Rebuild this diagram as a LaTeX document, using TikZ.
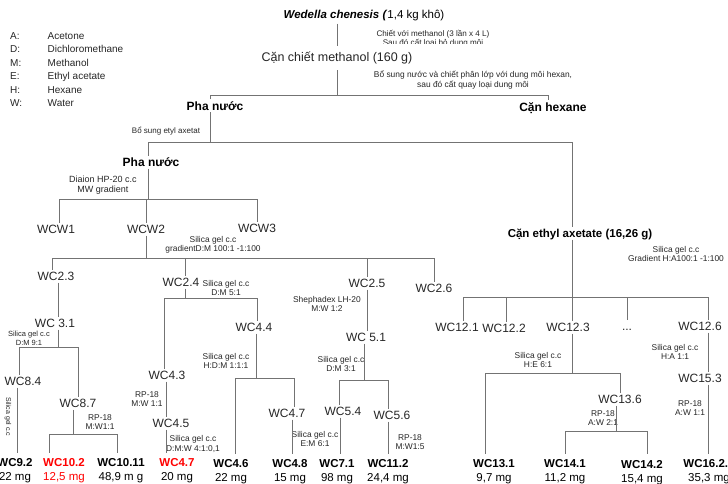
\documentclass[tikz,border=0pt]{standalone}
\usepackage{fontspec}
\setmainfont{Liberation Sans}
\begin{document}
\begin{tikzpicture}[x=1pt,y=-1pt,
 conn/.style={draw=black!55, line width=0.75pt},
 lab/.style={font=\fontsize{12}{14}\selectfont, text=black!85, inner sep=2pt, text height=8.6pt, text depth=0pt},
 res/.style={font=\fontsize{11.5}{14}\selectfont, align=center, inner xsep=1pt, inner ysep=6pt},
 sm/.style={font=\fontsize{8.4}{9.6}\selectfont, align=center, inner sep=1pt, text=black!85},
 hdr/.style={font=\bfseries\fontsize{12}{14}\selectfont, inner sep=2pt, text height=8.6pt, text depth=0pt},
 leg/.style={font=\fontsize{10}{12}\selectfont, anchor=base west, inner sep=0pt, text=black!85}]
\useasboundingbox (0,0) rectangle (728,484);

% legend
\foreach \k/\n [count=\i] in {A/Acetone, D/Dichloromethane, M/Methanol, E/Ethyl acetate, H/Hexane, W/Water}{
  \node[leg] (lk\i) at (10,26+13.5*\i) {\k:};
  \node[leg] (ln\i) at (47.5,26+13.5*\i) {\n};
}

% top part
\node[font=\fontsize{11.5}{13}\selectfont, inner sep=2pt] (title) at (364,16) {\textbf{\textit{Wedella chenesis (}}1,4 kg khô)};
\node[sm, font=\fontsize{8.1}{9}\selectfont] (n1) at (433,39) {Chiết với methanol (3 lần x 4 L)\\Sau đó cất loại bỏ dung môi};
\fill[white] (243,44.3) rectangle (495,68);
\node[font=\fontsize{12.5}{14}\selectfont, text=black!85, minimum height=24pt, inner sep=0pt] (cm) at (337,58) {Cặn chiết methanol (160 g)};
\node[sm] (n2) at (473,80) {Bổ sung nước và chiết phân lớp với dung môi hexan,\\sau đó cất quay loại dung môi};
\node[hdr] (pn1) at (215,106) {Pha nước};
\node[hdr] (ch) at (553,107) {Cặn hexane};
\node[sm, font=\fontsize{8}{9}\selectfont] (n3) at (166,131) {Bổ sung etyl axetat};
\node[hdr] (pn2) at (151,162) {Pha nước};
\node[sm, font=\fontsize{9}{9.5}\selectfont] (n4) at (103,185) {Diaion HP-20 c.c\\MW gradient};
\node[hdr, font=\bfseries\fontsize{11.5}{14}\selectfont] (ce) at (580,233) {Cặn ethyl axetate (16,26 g)};

% WC labels
\node[lab] (wcw1) at (56,229) {WCW1};
\node[lab] (wcw2) at (146,229) {WCW2};
\node[lab] (wcw3) at (257,228) {WCW3};
\node[lab] (wc23) at (56,276) {WC2.3};
\node[lab] (wc24) at (181,282) {WC2.4};
\node[lab] (wc25) at (367,283) {WC2.5};
\node[lab] (wc26) at (434,288) {WC2.6};
\node[lab] (wc31) at (55,323) {WC 3.1};
\node[lab] (wc44) at (254,327) {WC4.4};
\node[lab] (wc51) at (366,337) {WC 5.1};
\node[lab] (wc84) at (23,381) {WC8.4};
\node[lab] (wc87) at (78,403) {WC8.7};
\node[lab] (wc43) at (167,375) {WC4.3};
\node[lab] (wc45) at (171,423) {WC4.5};
\node[lab] (wc47b) at (287,413) {WC4.7};
\node[lab] (wc54) at (343,411) {WC5.4};
\node[lab] (wc56) at (392,415) {WC5.6};
\node[lab] (wc121) at (457,327) {WC12.1};
\node[lab] (wc122) at (504,328) {WC12.2};
\node[lab] (wc123) at (568,327) {WC12.3};
\node[lab] (dots) at (627,326) {...};
\node[lab] (wc126) at (700,326) {WC12.6};
\node[lab] (wc136) at (620,399) {WC13.6};
\node[lab] (wc153) at (700,378) {WC15.3};

% small conditions
\node[sm] (s1) at (213,245) {Silica gel c.c\\gradientD:M 100:1 -1:100};
\node[sm] (s2) at (226,288) {Silica gel c.c\\D:M 5:1};
\node[sm, font=\fontsize{7.5}{8.8}\selectfont] (s3) at (29,338) {Silica gel c.c\\D:M 9:1};
\node[sm] (s4) at (226,361) {Silica gel c.c\\H:D:M 1:1:1};
\node[sm] (s5) at (147,399) {RP-18\\M:W 1:1};
\node[sm] (s6) at (193,444) {Silica gel c.c\\D:M:W 4:1:0,1};
\node[sm] (s7) at (100,422) {RP-18\\M:W1:1};
\node[sm] (s8) at (327,304) {Shephadex LH-20\\M:W 1:2};
\node[sm] (s9) at (341,364) {Silica gel c.c\\D:M 3:1};
\node[sm] (s10) at (315,439) {Silica gel c.c\\E:M 6:1};
\node[sm] (s11) at (410,442) {RP-18\\M:W1:5};
\node[sm] (s12) at (676,254) {Silica gel c.c\\Gradient H:A100:1 -1:100};
\node[sm] (s13) at (538,360) {Silica gel c.c\\H:E 6:1};
\node[sm] (s14) at (675,352) {Silica gel c.c\\H:A 1:1};
\node[sm] (s15) at (603,418) {RP-18\\A:W 2:1};
\node[sm] (s16) at (690,408) {RP-18\\A:W 1:1};
\node[sm, rotate=-90, font=\fontsize{7}{8}\selectfont] (rot) at (8,417) {Silica gel c.c};

% results
\node[res] (r92) at (15,471) {\textbf{WC9.2}\\22 mg};
\node[res, text=red] (r102) at (64,471) {\textbf{WC10.2}\\12,5 mg};
\node[res] (r1011) at (121,471) {\textbf{WC10.11}\\48,9 m g};
\node[res] (r47) at (177,471) {\textcolor{red}{\textbf{WC4.7}}\\20 mg};
\node[res] (r46) at (231,472) {\textbf{WC4.6}\\22 mg};
\node[res] (r48) at (290,472) {\textbf{WC4.8}\\15 mg};
\node[res] (r71) at (337,472) {\textbf{WC7.1}\\98 mg};
\node[res] (r112) at (388,472) {\textbf{WC11.2}\\24,4 mg};
\node[res] (r131) at (494,472) {\textbf{WC13.1}\\9,7 mg};
\node[res] (r141) at (565,472) {\textbf{WC14.1}\\11,2 mg};
\node[res] (r142) at (642,472.5) {\textbf{WC14.2}\\15,4 mg};
\node[res] (r1621) at (709,472) {\textbf{WC16.2.1}\\35,3 mg};

% bar levels
\coordinate (b1) at (0,95);
\coordinate (b2) at (0,142);
\coordinate (b3) at (0,199);
\coordinate (b4) at (0,258);
\coordinate (b5) at (0,347);
\coordinate (b6) at (0,434);
\coordinate (b7) at (0,298);
\coordinate (b8) at (0,378);
\coordinate (b9) at (0,380);
\coordinate (b10) at (0,297);
\coordinate (b11) at (0,373);
\coordinate (b12) at (0,431);

% shifted anchors
\coordinate (pn1a) at ([xshift=-5pt]pn1.north);
\coordinate (pn1b) at ([xshift=-5pt]pn1.south);
\coordinate (cha) at ([xshift=-5pt]ch.north);
\coordinate (pn2a) at ([xshift=-3pt]pn2.north);
\coordinate (pn2b) at ([xshift=-3pt]pn2.south);
\coordinate (cea) at ([xshift=-8pt]ce.north);
\coordinate (ceb) at ([xshift=-8pt]ce.south);
\coordinate (w1a) at ([xshift=3pt]wcw1.north);
\coordinate (w23a) at ([xshift=-4pt]wc23.north);
\coordinate (w23b) at ([xshift=2pt]wc23.south);
\coordinate (w31b) at ([xshift=3pt]wc31.south);
\coordinate (w24a) at ([xshift=4pt]wc24.north);
\coordinate (w24b) at ([xshift=4pt]wc24.south);
\coordinate (w84a) at ([xshift=-4pt]wc84.north);
\coordinate (w84b) at ([xshift=-6pt]wc84.south);
\coordinate (w87b) at ([xshift=-5pt]wc87.south);
\coordinate (r102a) at ([xshift=-15pt]r102.north);
\coordinate (r1011a) at ([xshift=-4pt]r1011.north);
\coordinate (w43a) at ([xshift=-3pt]wc43.north);
\coordinate (w43b) at ([xshift=-1pt]wc43.south);
\coordinate (w44a) at ([xshift=3pt]wc44.north);
\coordinate (w44b) at ([xshift=2pt]wc44.south);
\coordinate (w45b) at ([xshift=-5pt]wc45.south);
\coordinate (r46a) at ([xshift=4pt]r46.north);
\coordinate (w47a) at ([xshift=7pt]wc47b.north);
\coordinate (w47b) at ([xshift=5pt]wc47b.south);
\coordinate (w51b) at ([xshift=-2pt]wc51.south);
\coordinate (w54a) at ([xshift=-4pt]wc54.north);
\coordinate (w54b) at ([xshift=-3pt]wc54.south);
\coordinate (w56a) at ([xshift=-4pt]wc56.north);
\coordinate (w56b) at ([xshift=-4pt]wc56.south);
\coordinate (w121a) at ([xshift=6pt]wc121.north);
\coordinate (w122a) at ([xshift=2pt]wc122.north);
\coordinate (w123a) at ([xshift=4pt]wc123.north);
\coordinate (w123b) at ([xshift=4pt]wc123.south);
\coordinate (w126a) at ([xshift=8pt]wc126.north);
\coordinate (w126b) at ([xshift=8pt]wc126.south);
\coordinate (w153a) at ([xshift=8pt]wc153.north);
\coordinate (w153b) at ([xshift=8pt]wc153.south);
\coordinate (r131a) at ([xshift=-9pt]r131.north);
\coordinate (w136b) at ([xshift=-4pt]wc136.south);
\coordinate (r142a) at ([xshift=5pt]r142.north);

% connectors
\draw[conn] (title.south -| cm.north) -- (cm.north);
\draw[conn] (cm.south) -- (cm.south |- b1);
\draw[conn] (pn1a) |- (cha |- b1) -- (cha);
\draw[conn] (pn1b) -- (pn1b |- b2);
\draw[conn] (pn2a) |- (cea |- b2) -- (cea);
\draw[conn] (pn2b) -- (pn2b |- b3);
\draw[conn] (w1a) |- (wcw3.north |- b3) -- (wcw3.north);
\draw[conn] (wcw2.north) -- (wcw2.north |- b3);
\draw[conn] (wcw2.south) -- (wcw2.south |- b4);
\draw[conn] (w23a) |- (wc26.north |- b4) -- (wc26.north);
\draw[conn] (w24a) -- (w24a |- b4);
\draw[conn] (wc25.north) -- (wc25.north |- b4);
\draw[conn] (w23b) -- (w23b |- wc31.north);
\draw[conn] (w31b) -- (w31b |- b5);
\draw[conn] (w84a) |- (wc87.north |- b5) -- (wc87.north);
\draw[conn] (w84b) -- (w84b |- r92.north);
\draw[conn] (w87b) -- (w87b |- b6);
\draw[conn] (r102a) |- (r1011a |- b6) -- (r1011a);
\draw[conn] (w24b) -- (w24b |- b7);
\draw[conn] (w43a) |- (w44a |- b7) -- (w44a);
\draw[conn] (w43b) -- (w43b |- wc45.north);
\draw[conn] (w45b) -- (w45b |- r47.north);
\draw[conn] (w44b) -- (w44b |- b8);
\draw[conn] (r46a) |- (w47a |- b8) -- (w47a);
\draw[conn] (w47b) -- (w47b |- r48.north);
\draw[conn] (wc25.south) -- (wc25.south |- wc51.north);
\draw[conn] (w51b) -- (w51b |- b9);
\draw[conn] (w54a) |- (w56a |- b9) -- (w56a);
\draw[conn] (w54b) -- (w54b |- r71.north);
\draw[conn] (w56b) -- (w56b |- r112.north);
\draw[conn] (ceb) -- (ceb |- b10);
\draw[conn] (w121a) |- (w126a |- b10) -- (w126a);
\draw[conn] (w122a) -- (w122a |- b10);
\draw[conn] (w123a) -- (w123a |- b10);
\draw[conn] (dots.north) -- (dots.north |- b10);
\draw[conn] (w123b) -- (w123b |- b11);
\draw[conn] (r131a) |- (wc136.north |- b11) -- (wc136.north);
\draw[conn] (w136b) -- (w136b |- b12);
\draw[conn] (r141.north) |- (r142a |- b12) -- (r142a);
\draw[conn] (w126b) -- (w153a);
\draw[conn] (w153b) -- (w153b |- r1621.north);
\end{tikzpicture}
\end{document}
